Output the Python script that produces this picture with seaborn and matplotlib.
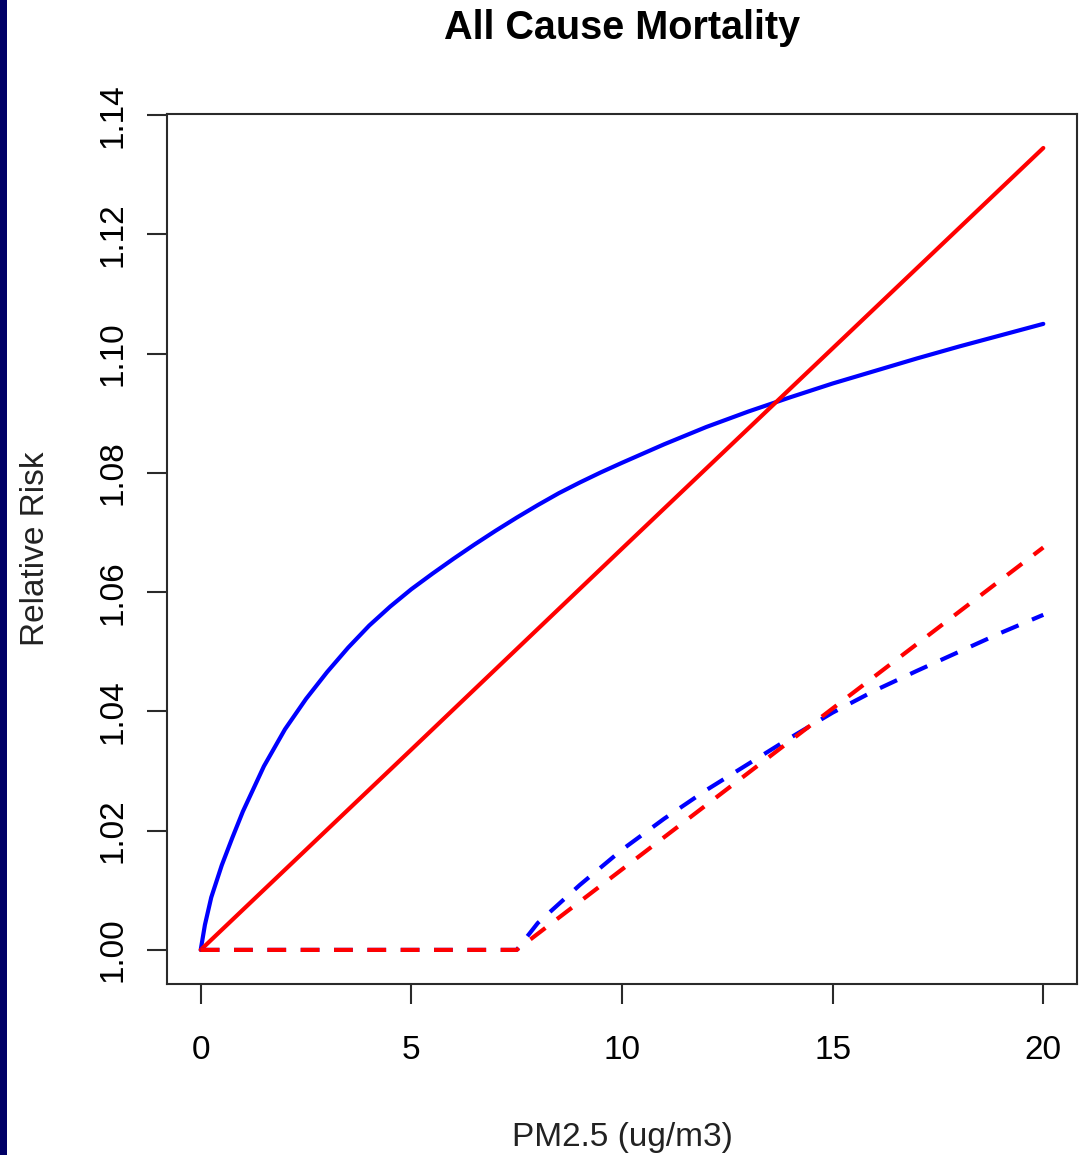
import matplotlib
matplotlib.use("Agg")
import matplotlib.pyplot as plt
from matplotlib.patches import Rectangle
import seaborn as sns

# ---- data ----
x_blue = [0, 0.1, 0.25, 0.5, 0.75, 1, 1.5, 2, 2.5, 3, 3.5, 4, 4.5, 5, 5.5,
          6, 6.5, 7, 7.5, 8, 8.5, 9, 9.5, 10, 11, 12, 13, 14, 15, 16, 17,
          18, 19, 20]
rr_blue = [1.000, 1.0042, 1.0088, 1.0142, 1.0188, 1.0232, 1.0308, 1.0370,
           1.0421, 1.0466, 1.0507, 1.0544, 1.0576, 1.0605, 1.0631, 1.0656,
           1.0680, 1.0703, 1.0725, 1.0746, 1.0766, 1.0784, 1.0801, 1.0817,
           1.0848, 1.0877, 1.0903, 1.0927, 1.0950, 1.0971, 1.0992, 1.1012,
           1.1031, 1.1050]

x_red = [0, 5, 10, 15, 20]
rr_red = [1.000, 1.0336, 1.0673, 1.1009, 1.1345]

x_blue_dash = [0, 7.5, 8, 9, 10, 11, 12, 13, 14, 15, 16, 17, 18, 19, 20]
rr_blue_dash = [1.000, 1.000, 1.0045, 1.0109, 1.0168, 1.0220, 1.0268, 1.0312,
                1.0356, 1.0398, 1.0435, 1.0468, 1.0500, 1.0532, 1.0562]

x_red_dash = [0, 7.5, 10, 12.5, 15, 17.5, 20]
rr_red_dash = [1.000, 1.000, 1.0135, 1.0270, 1.0405, 1.0540, 1.0675]

x_ticks = [0, 5, 10, 15, 20]
y_ticks = [1.00, 1.02, 1.04, 1.06, 1.08, 1.10, 1.12, 1.14]
y_tick_labels = ["1.00", "1.02", "1.04", "1.06", "1.08", "1.10", "1.12", "1.14"]

title = "All Cause Mortality"
xlabel = "PM2.5 (ug/m3)"
ylabel = "Relative Risk"

# ---- styling ----
sns.set_style("white")
plt.rcParams["font.family"] = ["Liberation Sans", "DejaVu Sans"]

W, H = 1084, 1155
fig = plt.figure(figsize=(W / 100, H / 100), dpi=100)
fig.patch.set_facecolor("white")
ax = fig.add_axes([167 / W, 1 - 984 / H, (1077 - 167) / W, (984 - 114) / H])

lw = 3.0
dash = (0, (4.5, 3.5))

sns.lineplot(x=x_blue, y=rr_blue, ax=ax, color="#0000FF", linewidth=lw,
             sort=False, estimator=None)
sns.lineplot(x=x_red, y=rr_red, ax=ax, color="#FF0000", linewidth=lw,
             sort=False, estimator=None)
sns.lineplot(x=x_blue_dash, y=rr_blue_dash, ax=ax, color="#0000FF",
             linewidth=lw, linestyle=dash, sort=False, estimator=None)
sns.lineplot(x=x_red_dash, y=rr_red_dash, ax=ax, color="#FF0000",
             linewidth=lw, linestyle=dash, sort=False, estimator=None)

ax.set_xlim(-0.8, 20.8)
ax.set_ylim(0.99428, 1.1402)

ax.set_xticks(x_ticks)
ax.set_xticklabels([str(t) for t in x_ticks])
ax.set_yticks(y_ticks)
ax.set_yticklabels(y_tick_labels)

for s in ax.spines.values():
    s.set_visible(True)
    s.set_color("#2a2a2a")
    s.set_linewidth(1.5)

ax.tick_params(axis="both", direction="out", length=14.5, width=1.5,
               color="#2a2a2a", labelsize=24, labelcolor="black")
ax.tick_params(axis="x", pad=22, bottom=True)
ax.tick_params(axis="y", pad=13.5, left=True, labelrotation=90)
for lab in ax.get_yticklabels():
    lab.set_verticalalignment("center")

ax.set_xlabel(xlabel, fontsize=24, color="#222222")
ax.set_ylabel(ylabel, fontsize=24, color="#222222")
ax.xaxis.set_label_coords(0.5, -0.159)
ax.yaxis.set_label_coords(-0.127, 0.5)

fig.text(0.5738, 1 - 28 / H, title, ha="center", va="center",
         fontsize=28.5, fontweight="bold", color="black")

# navy strip on the left edge
fig.patches.append(Rectangle((0, 0), 7 / W, 1, transform=fig.transFigure,
                             facecolor="#000066", edgecolor="none", zorder=10))

fig.savefig("out.png", dpi=100, facecolor="white")
